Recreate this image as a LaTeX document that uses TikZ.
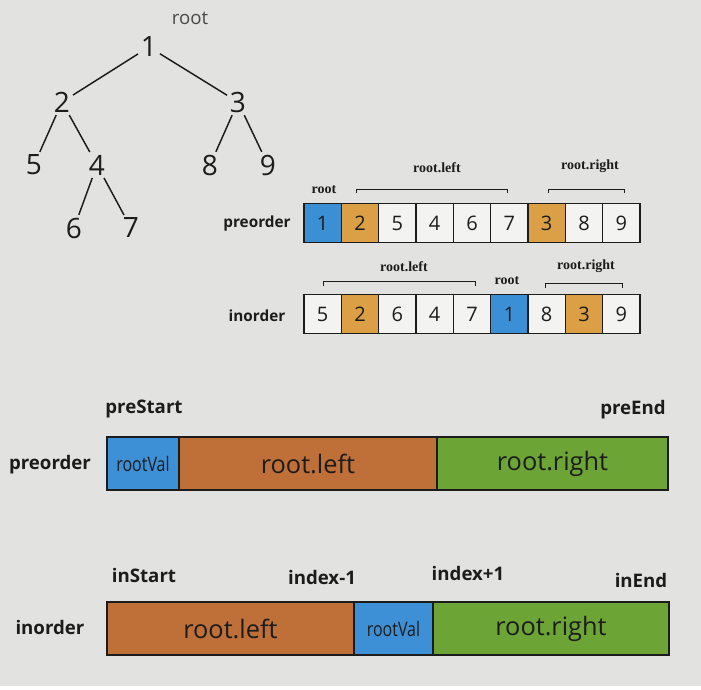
\documentclass[tikz,border=0pt]{standalone}
\usepackage{fontspec}
\setmainfont{Open Sans}
\newfontfamily\labelserif{Liberation Serif}
\newfontfamily\narrowfont[FakeStretch=0.8]{Open Sans}
\usetikzlibrary{positioning}
\definecolor{paper}{HTML}{E2E2E0}
\definecolor{ink}{HTML}{1C1C1C}
\definecolor{cellwhite}{HTML}{F3F3F1}
\definecolor{cellblue}{HTML}{3A8FD5}
\definecolor{cellgold}{HTML}{DB9F45}
\definecolor{barblue}{HTML}{3E90D6}
\definecolor{barbrown}{HTML}{BE7038}
\definecolor{bargreen}{HTML}{6CA535}
\begin{document}
\begin{tikzpicture}[x=0.75pt,y=-0.75pt,
  treenode/.style={inner sep=2pt, text=ink, font=\fontsize{21}{21}\selectfont},
  treeedge/.style={line width=1.1pt, ink},
  cell/.style={draw=ink, line width=0.9pt, minimum width=28pt, minimum height=29.5pt,
    inner sep=0pt, text=ink, font=\fontsize{15}{15}\selectfont},
  bar/.style={draw=ink, line width=1.1pt, minimum height=39.75pt, inner sep=0pt,
    outer sep=0pt, text=ink, font=\fontsize{19}{19}\selectfont},
  tag/.style={text=ink, font=\bfseries\fontsize{14}{14}\selectfont},
  rowtag/.style={text=ink, font=\bfseries\fontsize{11.5}{11.5}\selectfont},
  part/.style={text=ink, font=\labelserif\bfseries\fontsize{10.5}{10.5}\selectfont},
  brace/.style={line width=0.6pt, ink}]
\useasboundingbox (0,0) rectangle (701,690);
\fill[paper] (0,0) rectangle (701,690);
\fill[white] (0,686) rectangle (701,690);

% the tree
\node[text=ink!80, font=\fontsize{14}{14}\selectfont] (rootname) at (190,18) {root};
\node[treenode] (n1) at (149,47) {1};
\node[treenode] (n2) at (62,102) {2};
\node[treenode] (n3) at (238,102) {3};
\node[treenode] (n5) at (34,165) {5};
\node[treenode] (n4) at (97,165) {4};
\node[treenode] (n8) at (210,165) {8};
\node[treenode] (n9) at (268,165) {9};
\node[treenode] (n6) at (74,228) {6};
\node[treenode] (n7) at (131,228) {7};
\draw[treeedge] (n1) -- (n2);
\draw[treeedge] (n1) -- (n3);
\draw[treeedge] (n2) -- (n5);
\draw[treeedge] (n2) -- (n4);
\draw[treeedge] (n3) -- (n8);
\draw[treeedge] (n3) -- (n9);
\draw[treeedge] (n4) -- (n6);
\draw[treeedge] (n4) -- (n7);

% preorder array
\node[rowtag] (pretag) at (257,224) {preorder};
\foreach \v/\c [count=\k] in {1/cellblue,2/cellgold,5/cellwhite,4/cellwhite,6/cellwhite,
    7/cellwhite,3/cellgold,8/cellwhite,9/cellwhite}
  \node[cell, fill=\c] (p\k) at ({304+37.33*(\k-0.5)},223) {\v};
\node[part] (prer) at (324,190) {root};
\draw[brace] (356,193) -- (356,189) -- (507,189) -- (507,193);
\node[part] (prel) at (437,168) {root.left};
\draw[brace] (548,193) -- (548,189) -- (624,189) -- (624,193);
\node[part] (prerr) at (590,166) {root.right};

% inorder array
\node[rowtag] (intag) at (257,316) {inorder};
\foreach \v/\c [count=\k] in {5/cellwhite,2/cellgold,6/cellwhite,4/cellwhite,7/cellwhite,
    1/cellblue,8/cellwhite,3/cellgold,9/cellwhite}
  \node[cell, fill=\c] (i\k) at ({304+37.33*(\k-0.5)},314) {\v};
\draw[brace] (323,286) -- (323,281) -- (475,281) -- (475,286);
\node[part] (inl) at (404,267) {root.left};
\node[part] (inr) at (507,281) {root};
\draw[brace] (545,288) -- (545,283) -- (622,283) -- (622,288);
\node[part] (inrr) at (586,266) {root.right};

% preorder ranges
\node[tag] (prebar) at (50,465) {preorder};
\node[tag] (prestart) at (144,409) {preStart};
\node[tag] (preend) at (633,410) {preEnd};
\node[bar, fill=barblue, minimum width=54pt, anchor=west, font=\narrowfont\fontsize{15}{15}\selectfont]
  (pval) at (107,463.5) {rootVal};
\node[bar, fill=barbrown, minimum width=193.5pt, right=0pt of pval] (pleft) {root.left};
\node[bar, fill=bargreen, minimum width=173.25pt, right=0pt of pleft] (pright) {root.right};

% inorder ranges
\node[tag] (inbar) at (50,627) {inorder};
\node[tag] (instart) at (144,575) {inStart};
\node[tag] (idxm) at (322,577) {index-1};
\node[tag] (idxp) at (468,573) {index+1};
\node[tag] (inend) at (641,580) {inEnd};
\node[bar, fill=barbrown, minimum width=185.25pt, anchor=west] (ileft) at (107,628.5) {root.left};
\node[bar, fill=barblue, minimum width=59.25pt, right=0pt of ileft,
  font=\narrowfont\fontsize{15}{15}\selectfont] (ival) {rootVal};
\node[bar, fill=bargreen, minimum width=177pt, right=0pt of ival] (iright) {root.right};
\end{tikzpicture}
\end{document}
